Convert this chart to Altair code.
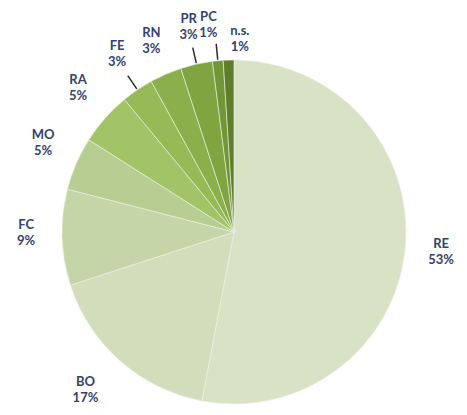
import altair as alt
import pandas as pd

cats = ["RE", "BO", "FC", "MO", "RA", "FE", "RN", "PR", "PC", "n.s."]
vals = [53, 17, 9, 5, 5, 3, 3, 3, 1, 1]
colors = ["#d8e2c5", "#d2ddbc", "#c5d5a8", "#b7cd92", "#a3c466",
          "#97ba57", "#8bb04b", "#7fa440", "#719637", "#5e7e2b"]
leader_cats = ["FE", "PR", "PC"]

df = pd.DataFrame({"cat": cats, "value": vals})
df["idx"] = range(len(df))
df["mid"] = df["value"].cumsum() - df["value"] / 2
df["label"] = df["cat"] + "\n" + df["value"].astype(str) + "%"
df["lead"] = df["cat"].isin(leader_cats)

theta_scale = alt.Scale(domain=[0, 100])
base = alt.Chart(df)

pie = base.mark_arc(outerRadius=172, stroke="#eef2e6", strokeWidth=0.6).encode(
    theta=alt.Theta("value:Q", stack=True, scale=theta_scale),
    order=alt.Order("idx:Q"),
    color=alt.Color("cat:N", scale=alt.Scale(domain=cats, range=colors), legend=None),
)

leaders = base.transform_filter(alt.datum.lead).mark_arc(
    innerRadius=173, outerRadius=189, stroke="#2b2b2b", strokeWidth=1.5, fillOpacity=0
).encode(
    theta=alt.Theta("mid:Q", scale=theta_scale),
    theta2="mid:Q",
)

text_style = dict(font="Lato", fontWeight="bold", fontSize=13, color="#34426e",
                  lineBreak="\n", align="center", baseline="middle", lineHeight=16)


def label_layer(names, radius=208, dx=0, dy=0):
    return base.transform_filter(
        alt.FieldOneOfPredicate(field="cat", oneOf=names)
    ).mark_text(radius=radius, dx=dx, dy=dy, **text_style).encode(
        theta=alt.Theta("mid:Q", scale=theta_scale),
        text="label:N",
    )


layers = [
    pie,
    leaders,
    label_layer(["RE", "RN"], dy=-8),
    label_layer(["FC", "MO", "RA", "FE"], dy=-14),
    label_layer(["PR"], dy=-10),
    label_layer(["BO"], dx=-11, dy=-6),
    label_layer(["PC"], dx=-6, dy=-8),
    label_layer(["n.s."], radius=196, dx=12, dy=-5),
]

chart = alt.layer(*layers).properties(
    width=450, height=350,
    autosize=alt.AutoSizeParams(type="none"),
    padding={"left": 1, "top": 49, "right": 0, "bottom": 0},
    background="white",
).configure_view(stroke=None)

chart.save("out.html", embed_options={"renderer": "svg", "actions": False})
